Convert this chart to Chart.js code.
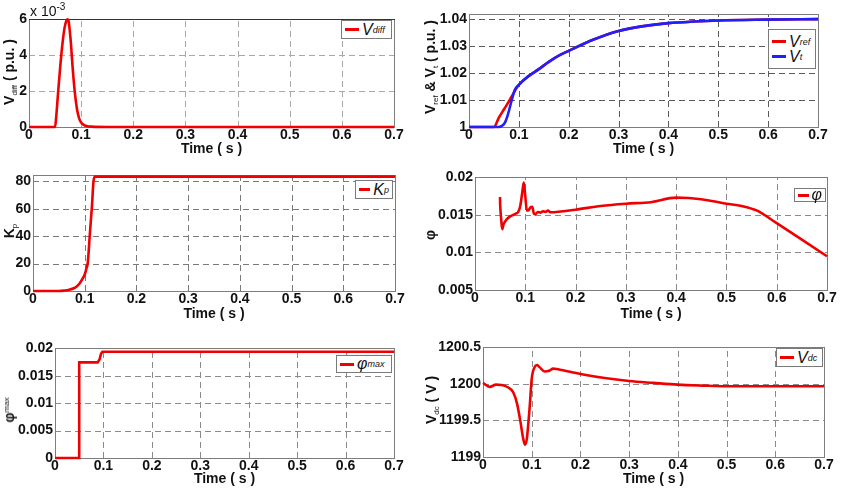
<!DOCTYPE html>
<html>
<head>
<meta charset="utf-8">
<script src="https://cdn.jsdelivr.net/npm/chart.js@4"></script>
<style>
  html, body { margin:0; padding:0; background:#fff; }
  #wrap { position:relative; width:841px; height:490px; overflow:hidden; background:#fff; }
  canvas { position:absolute; }
  .yt { position:absolute; transform: translate(-50%,-50%) rotate(-90deg); white-space:nowrap;
        font: bold 14px 'Liberation Sans', Arial, sans-serif; color:#111; }
  .yt sub { font-size:8px; font-weight:normal; vertical-align:-3px; }
  .yt sup { font-size:8px; font-weight:normal; vertical-align:5px; }
  .leg { position:absolute; background:#fff; border:1px solid #7a7a7a; box-sizing:border-box;
         display:flex; flex-direction:column; justify-content:center; padding:0 3px; }
  .row { display:flex; align-items:center; height:15px; font: italic 16px 'Liberation Sans', Arial, sans-serif; color:#111; }
  .row sub { font-size:9px; vertical-align:-4px; }
  .row sup { font-size:9px; vertical-align:6px; }
  .ln { display:inline-block; width:14px; height:3px; margin-right:3px; }
  .exp { position:absolute; font: 14px 'Liberation Sans', Arial, sans-serif; color:#111; }
  .exp sup { font-size:10px; vertical-align:6px; }
</style>
</head>
<body>
<div id="wrap">
  <canvas id="c1"></canvas><canvas id="c2"></canvas><canvas id="c3"></canvas>
  <canvas id="c4"></canvas><canvas id="c5"></canvas><canvas id="c6"></canvas>

  <div class="exp" style="left:30px;top:1px;">x 10<sup>-3</sup></div>

  <div class="yt" style="left:10px;top:72px;">V<sub>diff</sub> ( p.u. )</div>
  <div class="yt" style="left:431px;top:67px;">V<sub>ref</sub> &amp; V<sub>t</sub> ( p.u. )</div>
  <div class="yt" style="left:10px;top:231px;">K<sub>p</sub></div>
  <div class="yt" style="left:430px;top:235px;">φ</div>
  <div class="yt" style="left:9px;top:410px;">φ<sup>max</sup></div>
  <div class="yt" style="left:432px;top:400px;">V<sub>dc</sub> ( V )</div>

  <div class="leg" style="left:341px;top:20px;width:51px;height:19px;">
    <div class="row"><span class="ln" style="background:#f00000"></span>V<sub>diff</sub></div>
  </div>
  <div class="leg" style="left:768px;top:29px;width:48px;height:40px;">
    <div class="row"><span class="ln" style="background:#f00000"></span>V<sub>ref</sub></div>
    <div class="row"><span class="ln" style="background:#2020ff"></span>V<sub>t</sub></div>
  </div>
  <div class="leg" style="left:355px;top:180px;width:38px;height:19px;">
    <div class="row"><span class="ln" style="background:#f00000"></span>K<sub>p</sub></div>
  </div>
  <div class="leg" style="left:794px;top:188px;width:32px;height:14px;">
    <div class="row"><span class="ln" style="background:#f00000"></span>φ</div>
  </div>
  <div class="leg" style="left:336px;top:355px;width:56px;height:18px;">
    <div class="row"><span class="ln" style="background:#f00000"></span>φ<sup>max</sup></div>
  </div>
  <div class="leg" style="left:776px;top:348px;width:47px;height:19px;">
    <div class="row"><span class="ln" style="background:#f00000"></span>V<sub>dc</sub></div>
  </div>
</div>

<script>
// ---------------- DATA ----------------
const timeTicks = [0, 0.1, 0.2, 0.3, 0.4, 0.5, 0.6, 0.7];

// Panel 1: V_diff (x 10^-3 p.u.)
const vdiffTime   = [0, 0.05, 0.052, 0.056, 0.06, 0.064, 0.068, 0.072, 0.074, 0.076, 0.08, 0.084, 0.088, 0.092, 0.096, 0.1, 0.105, 0.11, 0.12, 0.15, 0.7];
const vdiffValues = [0, 0, 0.5, 2.0, 3.4, 4.6, 5.5, 5.95, 6.0, 5.9, 4.8, 3.2, 1.9, 1.0, 0.5, 0.25, 0.12, 0.06, 0.02, 0, 0];
const vdiffTicks  = [0, 2, 4, 6];

// Panel 2: V_ref and V_t (p.u.)
const vrefTime   = [0, 0.05, 0.06, 0.07, 0.08, 0.09, 0.1, 0.12, 0.14, 0.16, 0.18, 0.2, 0.25, 0.3, 0.35, 0.4, 0.45, 0.5, 0.6, 0.7];
const vrefValues = [1, 1, 1.0035, 1.0065, 1.0095, 1.0128, 1.0157, 1.019, 1.0215, 1.0242, 1.0265, 1.0283, 1.0325, 1.0357, 1.0375, 1.0386, 1.0392, 1.0396, 1.0399, 1.0401];
const vtTime     = [0, 0.06, 0.066, 0.072, 0.078, 0.085, 0.092, 0.1, 0.12, 0.14, 0.16, 0.18, 0.2, 0.25, 0.3, 0.35, 0.4, 0.45, 0.5, 0.6, 0.7];
const vtValues   = [1, 1, 1.0004, 1.0016, 1.0046, 1.0095, 1.0138, 1.0157, 1.019, 1.0215, 1.0242, 1.0265, 1.0283, 1.0325, 1.0357, 1.0375, 1.0386, 1.0392, 1.0396, 1.0399, 1.0401];
const vTicks     = [1, 1.01, 1.02, 1.03, 1.04];

// Panel 3: K_p
const kpTime   = [0, 0.05, 0.06, 0.07, 0.08, 0.085, 0.09, 0.095, 0.1, 0.103, 0.106, 0.11, 0.114, 0.117, 0.12, 0.7];
const kpValues = [0, 0, 0.3, 0.9, 2.2, 3.5, 5.5, 8.5, 12, 16, 21, 42, 62, 80, 83.5, 83.5];
const kpTicks  = [0, 20, 40, 60, 80];

// Panel 4: phi
const phiTime   = [0.0497, 0.05, 0.052, 0.054, 0.057, 0.063, 0.07, 0.076, 0.082, 0.086, 0.09, 0.094, 0.097, 0.1, 0.103, 0.106, 0.11, 0.114, 0.117, 0.12, 0.125, 0.13, 0.135, 0.14, 0.145, 0.15, 0.2, 0.25, 0.3, 0.35, 0.4, 0.45, 0.5, 0.53, 0.56, 0.6, 0.65, 0.7];
const phiValues = [0.0174, 0.0165, 0.0145, 0.0131, 0.0138, 0.0144, 0.0148, 0.015, 0.0152, 0.0154, 0.0162, 0.018, 0.0193, 0.0175, 0.0156, 0.0156, 0.016, 0.0161, 0.0152, 0.0151, 0.0154, 0.0153, 0.0155, 0.0154, 0.0156, 0.01535, 0.0157, 0.0162, 0.0165, 0.0167, 0.0173, 0.0171, 0.0165, 0.0162, 0.0156, 0.0139, 0.0117, 0.0095];
const phiTicks  = [0.005, 0.01, 0.015, 0.02];

// Panel 5: phi max
const phimaxTime   = [0, 0.05, 0.05, 0.088, 0.092, 0.095, 0.098, 0.7];
const phimaxValues = [0, 0, 0.01745, 0.01745, 0.018, 0.019, 0.0194, 0.0194];
const phimaxTicks  = [0, 0.005, 0.01, 0.015, 0.02];

// Panel 6: V_dc (V)
const vdcTime   = [0, 0.0137, 0.027, 0.038, 0.051, 0.062, 0.07, 0.077, 0.082, 0.086, 0.09, 0.096, 0.1, 0.106, 0.111, 0.116, 0.127, 0.136, 0.144, 0.154, 0.2, 0.25, 0.3, 0.35, 0.4, 0.45, 0.5, 0.6, 0.7];
const vdcValues = [1200.014, 1199.96, 1199.99, 1199.986, 1199.955, 1199.886, 1199.727, 1199.477, 1199.27, 1199.17, 1199.25, 1199.7, 1200.07, 1200.23, 1200.26, 1200.23, 1200.17, 1200.18, 1200.21, 1200.2, 1200.136, 1200.08, 1200.04, 1200.014, 1199.99, 1199.977, 1199.968, 1199.968, 1199.968];
const vdcTicks  = [1199, 1199.5, 1200, 1200.5];

// ---------------- RENDER ----------------
const RED = '#f00000', BLUE = '#2020ff';
const FONT = "'Liberation Sans', Arial, sans-serif";
const PAD_TOP = 10, PAD_RIGHT = 14;

function pts(xs, ys) { return xs.map((x, i) => ({x: x, y: ys[i]})); }

// Draws MATLAB-style dashed grid lines (at the scales' own tick positions) and the axes box.
const boxPlugin = {
  id: 'box',
  beforeDatasetsDraw(chart, args, opts) {
    const a = chart.chartArea, ctx = chart.ctx;
    const xs = chart.scales.x, ys = chart.scales.y;
    const gridColor = opts.gridColor || '#8a8a8a';
    ctx.save();
    ctx.lineWidth = 1;
    ctx.strokeStyle = gridColor;
    ctx.setLineDash([6, 4]);
    xs.ticks.forEach(t => {
      if (t.value <= xs.min + 1e-9 || t.value >= xs.max - 1e-9) return;
      const px = Math.round(xs.getPixelForValue(t.value)) + 0.5;
      ctx.beginPath(); ctx.moveTo(px, a.bottom); ctx.lineTo(px, a.top); ctx.stroke();
    });
    ys.ticks.forEach(t => {
      if (t.value <= ys.min + 1e-9 || t.value >= ys.max - 1e-9) return;
      const py = Math.round(ys.getPixelForValue(t.value)) + 0.5;
      ctx.beginPath(); ctx.moveTo(a.left, py); ctx.lineTo(a.right, py); ctx.stroke();
    });
    ctx.setLineDash([]);
    ctx.strokeStyle = '#7d7d7d';
    ctx.strokeRect(Math.round(a.left) + 0.5, Math.round(a.top) + 0.5,
                   Math.round(a.right - a.left), Math.round(a.bottom - a.top));
    if (opts.topColor) {
      ctx.strokeStyle = opts.topColor;
      ctx.beginPath();
      ctx.moveTo(Math.round(a.left), Math.round(a.top) + 0.5);
      ctx.lineTo(Math.round(a.right) + 1, Math.round(a.top) + 0.5);
      ctx.stroke();
    }
    ctx.restore();
  }
};

function makePanel(id, p, datasets, yTicks, yMin, yMax, gridColor, topColor) {
  const cv = document.getElementById(id);
  const w = p.r - p.l + p.yW + PAD_RIGHT;
  const h = p.b - p.t + PAD_TOP + p.xH;
  cv.width = w; cv.height = h;
  cv.style.left = (p.l - p.yW) + 'px';
  cv.style.top = (p.t - PAD_TOP) + 'px';
  cv.style.width = w + 'px'; cv.style.height = h + 'px';

  new Chart(cv, {
    type: 'line',
    data: { datasets: datasets },
    options: {
      responsive: false,
      animation: false,
      devicePixelRatio: 1,
      layout: { padding: { top: PAD_TOP, right: PAD_RIGHT, left: 0, bottom: 0 } },
      plugins: { legend: { display: false }, tooltip: { enabled: false },
                 box: { gridColor: gridColor, topColor: topColor } },
      elements: { point: { radius: 0 } },
      scales: {
        x: {
          type: 'linear', min: 0, max: 0.7,
          afterBuildTicks: (s) => { s.ticks = timeTicks.map(v => ({value: v})); },
          afterFit: (s) => { s.height = p.xH; },
          ticks: { padding: 0, color: '#111', font: { family: FONT, size: 14, weight: 'bold' },
                   maxRotation: 0, autoSkip: false, callback: (v) => String(v) },
          grid: { display: false, drawTicks: false },
          border: { display: false },
          title: { display: true, text: 'Time ( s )', color: '#111', padding: 0,
                   font: { family: FONT, size: 14, weight: 'bold' } }
        },
        y: {
          type: 'linear', min: yMin, max: yMax,
          afterBuildTicks: (s) => { s.ticks = yTicks.map(v => ({value: v})); },
          afterFit: (s) => { s.width = p.yW; },
          ticks: { padding: 2, color: '#111', font: { family: FONT, size: 14, weight: 'bold' },
                   autoSkip: false, callback: (v) => String(v) },
          grid: { display: false, drawTicks: false },
          border: { display: false }
        }
      }
    },
    plugins: [boxPlugin]
  });
}

function ds(label, xs, ys, color, opts) {
  return Object.assign({
    label: label, data: pts(xs, ys), borderColor: color, backgroundColor: color,
    borderWidth: 2.6, fill: false, cubicInterpolationMode: 'monotone', clip: 4
  }, opts || {});
}

makePanel('c1', {l:29, r:394, t:19, b:127, yW:29, xH:31},
  [ds('Vdiff', vdiffTime, vdiffValues, RED)], vdiffTicks, 0, 6, '#a8a8a8', '#333333');

makePanel('c2', {l:469, r:818, t:14, b:127, yW:40, xH:31},
  [ds('Vt', vtTime, vtValues, BLUE, {order: 0}),
   ds('Vref', vrefTime, vrefValues, RED, {order: 1})], vTicks, 1, 1.04185, '#5a5a5a');

makePanel('c3', {l:33, r:395, t:175, b:291, yW:33, xH:32},
  [ds('Kp', kpTime, kpValues, RED)], kpTicks, 0, 84.4, '#7a7a7a');

makePanel('c4', {l:475, r:827, t:177, b:290, yW:45, xH:33},
  [ds('phi', phiTime, phiValues, RED)], phiTicks, 0.005, 0.02, '#8a8a8a');

makePanel('c5', {l:55, r:394, t:348, b:458, yW:45, xH:30},
  [ds('phimax', phimaxTime, phimaxValues, RED, {cubicInterpolationMode: 'default', tension: 0})],
  phimaxTicks, 0, 0.02, '#8a8a8a');

makePanel('c6', {l:483, r:824, t:347, b:457, yW:50, xH:31},
  [ds('Vdc', vdcTime, vdcValues, RED)], vdcTicks, 1199, 1200.5, '#8a8a8a');
</script>
</body>
</html>
